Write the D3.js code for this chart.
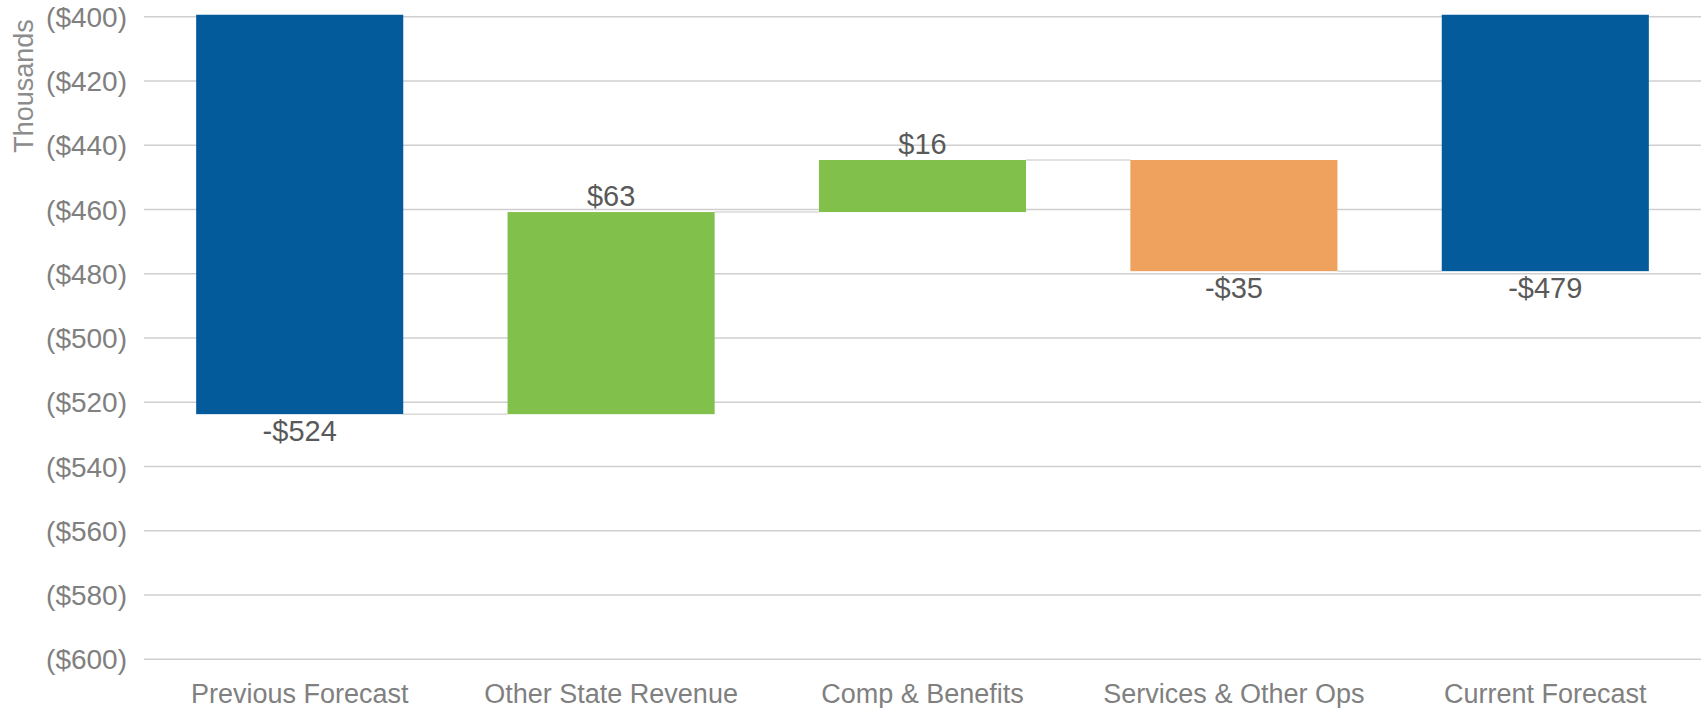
<!DOCTYPE html>
<meta charset="utf-8">
<script src="https://d3js.org/d3.v7.min.js"></script>
<style>
  body { margin: 0; background: #fff; }
  text { font-family: "Liberation Sans", Arial, sans-serif; }
</style>
<div id="chart"></div>
<script>
// data (thousands)
var categories = ["Previous Forecast", "Other State Revenue", "Comp & Benefits", "Services & Other Ops", "Current Forecast"];
var amounts = [-523.7, 62.9, 16.2, -34.6, -479.2];
var kinds = ["total", "up", "up", "down", "total"];
var yTicks = [-400, -420, -440, -460, -480, -500, -520, -540, -560, -580, -600];

var colors = { total: "#035b9c", up: "#82c04c", down: "#eea25d" };

var W = 1702, H = 708;
var margin = {top: 16.7, right: 1, bottom: 48.7, left: 144};
var width = W - margin.left - margin.right,
    height = H - margin.top - margin.bottom;

var svg = d3.select("#chart").append("svg")
    .attr("width", W).attr("height", H);

var g = svg.append("g")
    .attr("transform", "translate(" + margin.left + "," + margin.top + ")");

var x = d3.scaleBand().domain(categories).range([0, width]).paddingInner(0.335).paddingOuter(0.1675);
var y = d3.scaleLinear().domain([-600, -400]).range([height, 0]);

// build waterfall steps
var running = 0;
var steps = categories.map(function(c, i) {
  var start, end;
  if (kinds[i] === "total") { start = 0; end = amounts[i]; }
  else { start = running; end = running + amounts[i]; }
  running = end;
  return {cat: c, start: start, end: end, value: amounts[i], kind: kinds[i]};
});

// gridlines
g.append("g").selectAll("line")
  .data(yTicks).enter().append("line")
    .attr("x1", 0).attr("x2", width)
    .attr("y1", d => y(d)).attr("y2", d => y(d))
    .attr("stroke", "#cfcfcf").attr("stroke-width", 1.6);

// y axis labels
var fmt = d => "($" + Math.abs(d) + ")";
g.append("g").selectAll("text")
  .data(yTicks).enter().append("text")
    .attr("x", -17).attr("y", d => y(d))
    .attr("dy", "0.36em")
    .attr("text-anchor", "end")
    .attr("fill", "#808080")
    .style("font-size", "28px")
    .text(fmt);

svg.append("text")
  .attr("transform", "translate(33,86)rotate(-90)")
  .attr("text-anchor", "middle")
  .attr("fill", "#8c8c8c")
  .style("font-size", "27px")
  .text("Thousands");

// clip for bars running past the top
svg.append("clipPath").attr("id", "clip")
  .append("rect").attr("x", 0).attr("y", -2).attr("width", width).attr("height", height + 2);

// connectors
g.append("g").selectAll("line")
  .data(steps.slice(0, -1)).enter().append("line")
    .attr("x1", d => x(d.cat) + x.bandwidth())
    .attr("x2", (d, i) => x(categories[i + 1]))
    .attr("y1", d => y(d.end)).attr("y2", d => y(d.end))
    .attr("stroke", "#d9d9d9").attr("stroke-width", 1.5);

// bars
g.append("g").attr("clip-path", "url(#clip)").selectAll("rect")
  .data(steps).enter().append("rect")
    .attr("x", d => x(d.cat))
    .attr("width", x.bandwidth())
    .attr("y", d => y(Math.max(d.start, d.end)))
    .attr("height", d => Math.abs(y(d.start) - y(d.end)))
    .attr("fill", d => colors[d.kind]);

// data labels
g.append("g").selectAll("text")
  .data(steps).enter().append("text")
    .attr("x", d => x(d.cat) + x.bandwidth() / 2)
    .attr("y", d => d.value >= 0 ? y(d.end) - 6 : y(d.end) + 27)
    .attr("text-anchor", "middle")
    .attr("fill", "#595959")
    .style("font-size", "29px")
    .text(d => (d.value < 0 ? "-$" : "$") + Math.round(Math.abs(d.value)));

// category labels
g.append("g").selectAll("text")
  .data(categories).enter().append("text")
    .attr("x", d => x(d) + x.bandwidth() / 2)
    .attr("y", height + 44)
    .attr("text-anchor", "middle")
    .attr("fill", "#808080")
    .style("font-size", "27px")
    .text(d => d);
</script>
